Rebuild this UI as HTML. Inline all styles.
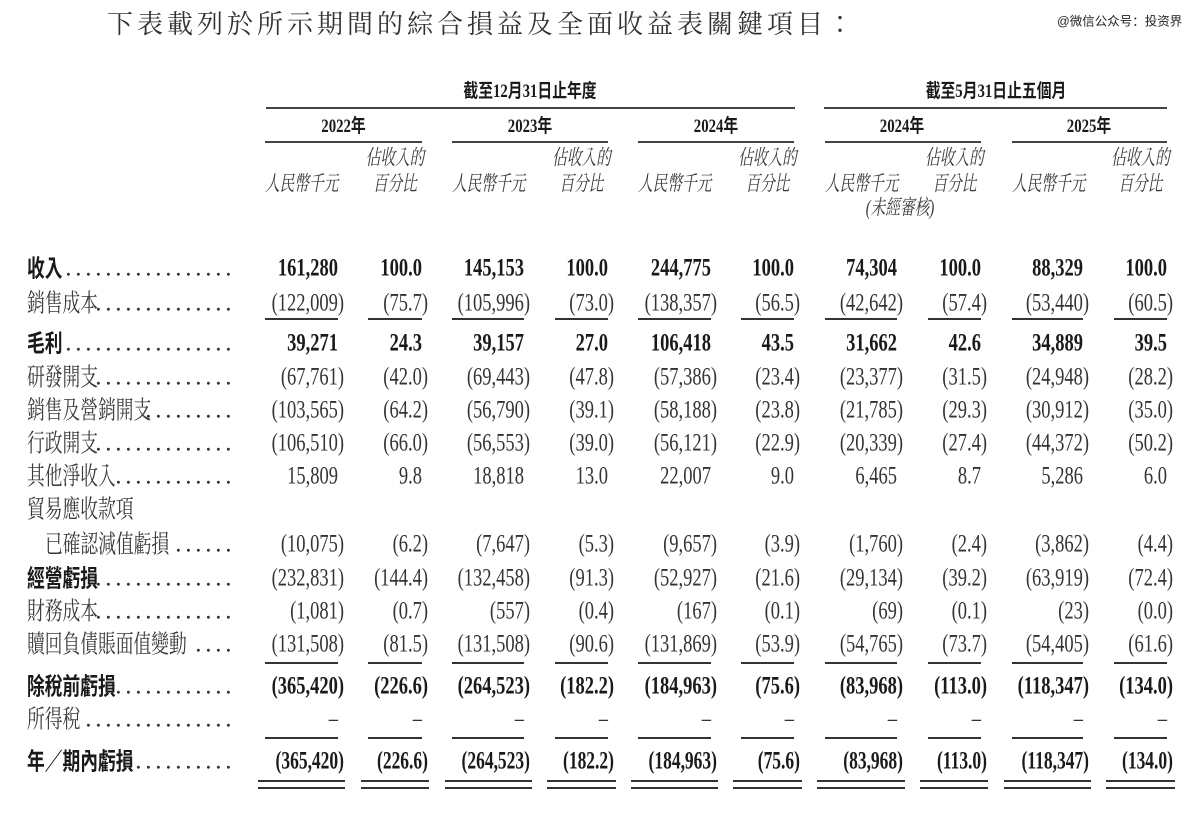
<!DOCTYPE html>
<html><head><meta charset="utf-8"><style>
html,body{margin:0;padding:0;background:#fff;}
svg{display:block}
.n{font-family:"Liberation Serif",serif;font-size:25px;fill:#333;text-anchor:end;}
.nb{font-family:"Liberation Serif",serif;font-size:25px;font-weight:bold;fill:#1a1a1a;text-anchor:end;}
.l{font-family:"Liberation Serif","Noto Serif CJK TC",serif;font-size:25px;fill:#3a3a3a;}
.lb{font-family:"Liberation Sans","Noto Sans CJK TC",sans-serif;font-size:24px;font-weight:bold;fill:#1a1a1a;}
.d{font-family:"Liberation Serif",serif;font-size:25px;fill:#333;letter-spacing:3.75px;}
.h{font-family:"Liberation Serif","Noto Serif CJK TC",serif;font-size:21px;font-style:italic;fill:#3a3a3a;}
.hb{font-family:"Liberation Serif","Noto Sans CJK TC",sans-serif;font-size:19px;font-weight:bold;fill:#1a1a1a;text-anchor:middle;}
.t{font-family:"Liberation Serif","Noto Serif CJK TC",serif;font-size:26px;letter-spacing:4px;fill:#333;}
.w{font-family:"Liberation Sans","Noto Sans CJK SC",sans-serif;font-size:12.5px;fill:#222;}
.m{text-anchor:middle}
</style></head><body>
<svg width="1200" height="819" viewBox="0 0 1200 819">
<rect width="1200" height="819" fill="#fff"/>
<text class="t" x="107" y="33">下表載列於所示期間的綜合損益及全面收益表關鍵項目：</text>
<text class="w" x="1057" y="25.5">@微信公众号：投资界</text>

<!-- header -->
<text class="hb" transform="translate(530,97) scale(.78 1)">截至12月31日止年度</text>
<text class="hb" transform="translate(996,97) scale(.78 1)">截至5月31日止五個月</text>
<g fill="#444">
<rect x="266" y="107" width="529" height="2"/>
<rect x="824" y="107" width="343" height="2"/>
<rect x="265" y="141" width="157" height="2"/>
<rect x="452" y="141" width="156" height="2"/>
<rect x="638" y="141" width="156" height="2"/>
<rect x="825" y="141" width="156" height="2"/>
<rect x="1012" y="141" width="155" height="2"/>
</g>
<text class="hb" transform="translate(343.5,132) scale(.78 1)">2022年</text>
<text class="hb" transform="translate(530,132) scale(.78 1)">2023年</text>
<text class="hb" transform="translate(716,132) scale(.78 1)">2024年</text>
<text class="hb" transform="translate(902,132) scale(.78 1)">2024年</text>
<text class="hb" transform="translate(1089,132) scale(.78 1)">2025年</text>

<text class="h" transform="translate(265,190.5) scale(.7 1)">人民幣千元</text>
<text class="h" transform="translate(452,190.5) scale(.7 1)">人民幣千元</text>
<text class="h" transform="translate(638,190.5) scale(.7 1)">人民幣千元</text>
<text class="h" transform="translate(825,190.5) scale(.7 1)">人民幣千元</text>
<text class="h" transform="translate(1012,190.5) scale(.7 1)">人民幣千元</text>
<g class="h m">
<text transform="translate(395,164.5) scale(.7 1)">佔收入的</text>
<text transform="translate(581.5,164.5) scale(.7 1)">佔收入的</text>
<text transform="translate(767.5,164.5) scale(.7 1)">佔收入的</text>
<text transform="translate(954.5,164.5) scale(.7 1)">佔收入的</text>
<text transform="translate(1140.5,164.5) scale(.7 1)">佔收入的</text>
<text transform="translate(395,190.5) scale(.7 1)">百分比</text>
<text transform="translate(581.5,190.5) scale(.7 1)">百分比</text>
<text transform="translate(767.5,190.5) scale(.7 1)">百分比</text>
<text transform="translate(954.5,190.5) scale(.7 1)">百分比</text>
<text transform="translate(1140.5,190.5) scale(.7 1)">百分比</text>
<text transform="translate(900,214.5) scale(.7 1)">(未經審核)</text>
</g>

<!-- labels -->
<text class="lb" transform="translate(27,276.4) scale(.74 1)">收入</text>
<text class="d" x="65.3" y="275.4">.................</text>
<text class="l" transform="translate(27,311.4) scale(.71 1)">銷售成本</text>
<text class="d" x="95.3" y="310.4">..............</text>
<text class="lb" transform="translate(27,351.4) scale(.74 1)">毛利</text>
<text class="d" x="65.3" y="350.4">.................</text>
<text class="l" transform="translate(27,385.4) scale(.71 1)">研發開支</text>
<text class="d" x="95.3" y="384.4">..............</text>
<text class="l" transform="translate(27,418.4) scale(.71 1)">銷售及營銷開支</text>
<text class="d" x="145.3" y="417.4">.........</text>
<text class="l" transform="translate(27,451.4) scale(.71 1)">行政開支</text>
<text class="d" x="95.3" y="450.4">..............</text>
<text class="l" transform="translate(27,484.4) scale(.71 1)">其他淨收入</text>
<text class="d" x="115.3" y="483.4">............</text>
<text class="l" transform="translate(27,517.4) scale(.71 1)">貿易應收款項</text>
<text class="l" transform="translate(45,552.4) scale(.71 1)">已確認減值虧損</text>
<text class="d" x="175.3" y="551.4">......</text>
<text class="lb" transform="translate(27,586.4) scale(.74 1)">經營虧損</text>
<text class="d" x="95.3" y="585.4">..............</text>
<text class="l" transform="translate(27,619.4) scale(.71 1)">財務成本</text>
<text class="d" x="95.3" y="618.4">..............</text>
<text class="l" transform="translate(27,652.4) scale(.71 1)">贖回負債賬面值變動</text>
<text class="d" x="195.3" y="651.4">....</text>
<text class="lb" transform="translate(27,694.4) scale(.74 1)">除稅前虧損</text>
<text class="d" x="115.3" y="693.4">............</text>
<text class="l" transform="translate(27,727.4) scale(.71 1)">所得稅</text>
<text class="d" x="85.3" y="726.4">...............</text>
<text class="lb" transform="translate(27,769.4) scale(.74 1)">年／期內虧損</text>
<text class="d" x="135.3" y="768.4">..........</text>

<!-- row 1 -->
<g class="nb" transform="translate(0,275.4)">
<text transform="translate(338) scale(.74 1)">161,280</text>
<text transform="translate(422) scale(.74 1)">100.0</text>
<text transform="translate(524) scale(.74 1)">145,153</text>
<text transform="translate(608) scale(.74 1)">100.0</text>
<text transform="translate(711) scale(.74 1)">244,775</text>
<text transform="translate(794) scale(.74 1)">100.0</text>
<text transform="translate(897) scale(.74 1)">74,304</text>
<text transform="translate(981) scale(.74 1)">100.0</text>
<text transform="translate(1083) scale(.74 1)">88,329</text>
<text transform="translate(1167) scale(.74 1)">100.0</text>
</g>
<!-- row 2 -->
<g class="n" transform="translate(0,310.4)">
<text transform="translate(344) scale(.74 1)">(122,009)</text>
<text transform="translate(428) scale(.74 1)">(75.7)</text>
<text transform="translate(530) scale(.74 1)">(105,996)</text>
<text transform="translate(614) scale(.74 1)">(73.0)</text>
<text transform="translate(717) scale(.74 1)">(138,357)</text>
<text transform="translate(800) scale(.74 1)">(56.5)</text>
<text transform="translate(903) scale(.74 1)">(42,642)</text>
<text transform="translate(987) scale(.74 1)">(57.4)</text>
<text transform="translate(1089) scale(.74 1)">(53,440)</text>
<text transform="translate(1173) scale(.74 1)">(60.5)</text>
</g>
<!-- row 3 -->
<g class="nb" transform="translate(0,350.4)">
<text transform="translate(338) scale(.74 1)">39,271</text>
<text transform="translate(422) scale(.74 1)">24.3</text>
<text transform="translate(524) scale(.74 1)">39,157</text>
<text transform="translate(608) scale(.74 1)">27.0</text>
<text transform="translate(711) scale(.74 1)">106,418</text>
<text transform="translate(794) scale(.74 1)">43.5</text>
<text transform="translate(897) scale(.74 1)">31,662</text>
<text transform="translate(981) scale(.74 1)">42.6</text>
<text transform="translate(1083) scale(.74 1)">34,889</text>
<text transform="translate(1167) scale(.74 1)">39.5</text>
</g>
<!-- row 4 -->
<g class="n" transform="translate(0,384.4)">
<text transform="translate(344) scale(.74 1)">(67,761)</text>
<text transform="translate(428) scale(.74 1)">(42.0)</text>
<text transform="translate(530) scale(.74 1)">(69,443)</text>
<text transform="translate(614) scale(.74 1)">(47.8)</text>
<text transform="translate(717) scale(.74 1)">(57,386)</text>
<text transform="translate(800) scale(.74 1)">(23.4)</text>
<text transform="translate(903) scale(.74 1)">(23,377)</text>
<text transform="translate(987) scale(.74 1)">(31.5)</text>
<text transform="translate(1089) scale(.74 1)">(24,948)</text>
<text transform="translate(1173) scale(.74 1)">(28.2)</text>
</g>
<!-- row 5 -->
<g class="n" transform="translate(0,417.4)">
<text transform="translate(344) scale(.74 1)">(103,565)</text>
<text transform="translate(428) scale(.74 1)">(64.2)</text>
<text transform="translate(530) scale(.74 1)">(56,790)</text>
<text transform="translate(614) scale(.74 1)">(39.1)</text>
<text transform="translate(717) scale(.74 1)">(58,188)</text>
<text transform="translate(800) scale(.74 1)">(23.8)</text>
<text transform="translate(903) scale(.74 1)">(21,785)</text>
<text transform="translate(987) scale(.74 1)">(29.3)</text>
<text transform="translate(1089) scale(.74 1)">(30,912)</text>
<text transform="translate(1173) scale(.74 1)">(35.0)</text>
</g>
<!-- row 6 -->
<g class="n" transform="translate(0,450.4)">
<text transform="translate(344) scale(.74 1)">(106,510)</text>
<text transform="translate(428) scale(.74 1)">(66.0)</text>
<text transform="translate(530) scale(.74 1)">(56,553)</text>
<text transform="translate(614) scale(.74 1)">(39.0)</text>
<text transform="translate(717) scale(.74 1)">(56,121)</text>
<text transform="translate(800) scale(.74 1)">(22.9)</text>
<text transform="translate(903) scale(.74 1)">(20,339)</text>
<text transform="translate(987) scale(.74 1)">(27.4)</text>
<text transform="translate(1089) scale(.74 1)">(44,372)</text>
<text transform="translate(1173) scale(.74 1)">(50.2)</text>
</g>
<!-- row 7 -->
<g class="n" transform="translate(0,483.4)">
<text transform="translate(338) scale(.74 1)">15,809</text>
<text transform="translate(422) scale(.74 1)">9.8</text>
<text transform="translate(524) scale(.74 1)">18,818</text>
<text transform="translate(608) scale(.74 1)">13.0</text>
<text transform="translate(711) scale(.74 1)">22,007</text>
<text transform="translate(794) scale(.74 1)">9.0</text>
<text transform="translate(897) scale(.74 1)">6,465</text>
<text transform="translate(981) scale(.74 1)">8.7</text>
<text transform="translate(1083) scale(.74 1)">5,286</text>
<text transform="translate(1167) scale(.74 1)">6.0</text>
</g>
<!-- row 9 -->
<g class="n" transform="translate(0,551.4)">
<text transform="translate(344) scale(.74 1)">(10,075)</text>
<text transform="translate(428) scale(.74 1)">(6.2)</text>
<text transform="translate(530) scale(.74 1)">(7,647)</text>
<text transform="translate(614) scale(.74 1)">(5.3)</text>
<text transform="translate(717) scale(.74 1)">(9,657)</text>
<text transform="translate(800) scale(.74 1)">(3.9)</text>
<text transform="translate(903) scale(.74 1)">(1,760)</text>
<text transform="translate(987) scale(.74 1)">(2.4)</text>
<text transform="translate(1089) scale(.74 1)">(3,862)</text>
<text transform="translate(1173) scale(.74 1)">(4.4)</text>
</g>
<!-- row 10 -->
<g class="n" transform="translate(0,585.4)">
<text transform="translate(344) scale(.74 1)">(232,831)</text>
<text transform="translate(428) scale(.74 1)">(144.4)</text>
<text transform="translate(530) scale(.74 1)">(132,458)</text>
<text transform="translate(614) scale(.74 1)">(91.3)</text>
<text transform="translate(717) scale(.74 1)">(52,927)</text>
<text transform="translate(800) scale(.74 1)">(21.6)</text>
<text transform="translate(903) scale(.74 1)">(29,134)</text>
<text transform="translate(987) scale(.74 1)">(39.2)</text>
<text transform="translate(1089) scale(.74 1)">(63,919)</text>
<text transform="translate(1173) scale(.74 1)">(72.4)</text>
</g>
<!-- row 11 -->
<g class="n" transform="translate(0,618.4)">
<text transform="translate(344) scale(.74 1)">(1,081)</text>
<text transform="translate(428) scale(.74 1)">(0.7)</text>
<text transform="translate(530) scale(.74 1)">(557)</text>
<text transform="translate(614) scale(.74 1)">(0.4)</text>
<text transform="translate(717) scale(.74 1)">(167)</text>
<text transform="translate(800) scale(.74 1)">(0.1)</text>
<text transform="translate(903) scale(.74 1)">(69)</text>
<text transform="translate(987) scale(.74 1)">(0.1)</text>
<text transform="translate(1089) scale(.74 1)">(23)</text>
<text transform="translate(1173) scale(.74 1)">(0.0)</text>
</g>
<!-- row 12 -->
<g class="n" transform="translate(0,651.4)">
<text transform="translate(344) scale(.74 1)">(131,508)</text>
<text transform="translate(428) scale(.74 1)">(81.5)</text>
<text transform="translate(530) scale(.74 1)">(131,508)</text>
<text transform="translate(614) scale(.74 1)">(90.6)</text>
<text transform="translate(717) scale(.74 1)">(131,869)</text>
<text transform="translate(800) scale(.74 1)">(53.9)</text>
<text transform="translate(903) scale(.74 1)">(54,765)</text>
<text transform="translate(987) scale(.74 1)">(73.7)</text>
<text transform="translate(1089) scale(.74 1)">(54,405)</text>
<text transform="translate(1173) scale(.74 1)">(61.6)</text>
</g>
<!-- row 13 -->
<g class="nb" transform="translate(0,693.4)">
<text transform="translate(344) scale(.74 1)">(365,420)</text>
<text transform="translate(428) scale(.74 1)">(226.6)</text>
<text transform="translate(530) scale(.74 1)">(264,523)</text>
<text transform="translate(614) scale(.74 1)">(182.2)</text>
<text transform="translate(717) scale(.74 1)">(184,963)</text>
<text transform="translate(800) scale(.74 1)">(75.6)</text>
<text transform="translate(903) scale(.74 1)">(83,968)</text>
<text transform="translate(987) scale(.74 1)">(113.0)</text>
<text transform="translate(1089) scale(.74 1)">(118,347)</text>
<text transform="translate(1173) scale(.74 1)">(134.0)</text>
</g>
<!-- row 14 -->
<g class="n" transform="translate(0,726.4)">
<text transform="translate(338) scale(.74 1)">–</text>
<text transform="translate(422) scale(.74 1)">–</text>
<text transform="translate(524) scale(.74 1)">–</text>
<text transform="translate(608) scale(.74 1)">–</text>
<text transform="translate(711) scale(.74 1)">–</text>
<text transform="translate(794) scale(.74 1)">–</text>
<text transform="translate(897) scale(.74 1)">–</text>
<text transform="translate(981) scale(.74 1)">–</text>
<text transform="translate(1083) scale(.74 1)">–</text>
<text transform="translate(1167) scale(.74 1)">–</text>
</g>
<!-- row 15 -->
<g class="nb" transform="translate(0,768.4)">
<text transform="translate(344) scale(.7 1)">(365,420)</text>
<text transform="translate(428) scale(.7 1)">(226.6)</text>
<text transform="translate(530) scale(.7 1)">(264,523)</text>
<text transform="translate(614) scale(.7 1)">(182.2)</text>
<text transform="translate(717) scale(.7 1)">(184,963)</text>
<text transform="translate(800) scale(.7 1)">(75.6)</text>
<text transform="translate(903) scale(.7 1)">(83,968)</text>
<text transform="translate(987) scale(.7 1)">(113.0)</text>
<text transform="translate(1089) scale(.7 1)">(118,347)</text>
<text transform="translate(1173) scale(.7 1)">(134.0)</text>
</g>

<!-- underlines -->
<g fill="#333">
<rect x="265" y="318" width="73" height="2"/><rect x="368" y="318" width="54" height="2"/>
<rect x="452" y="318" width="72" height="2"/><rect x="555" y="318" width="53" height="2"/>
<rect x="638" y="318" width="73" height="2"/><rect x="741" y="318" width="53" height="2"/>
<rect x="825" y="318" width="72" height="2"/><rect x="928" y="318" width="53" height="2"/>
<rect x="1012" y="318" width="71" height="2"/><rect x="1114" y="318" width="53" height="2"/>

<rect x="265" y="662" width="73" height="2"/><rect x="368" y="662" width="54" height="2"/>
<rect x="452" y="662" width="72" height="2"/><rect x="555" y="662" width="53" height="2"/>
<rect x="638" y="662" width="73" height="2"/><rect x="741" y="662" width="53" height="2"/>
<rect x="825" y="662" width="72" height="2"/><rect x="928" y="662" width="53" height="2"/>
<rect x="1012" y="662" width="71" height="2"/><rect x="1114" y="662" width="53" height="2"/>

<rect x="265" y="737" width="73" height="2"/><rect x="368" y="737" width="54" height="2"/>
<rect x="452" y="737" width="72" height="2"/><rect x="555" y="737" width="53" height="2"/>
<rect x="638" y="737" width="73" height="2"/><rect x="741" y="737" width="53" height="2"/>
<rect x="825" y="737" width="72" height="2"/><rect x="928" y="737" width="53" height="2"/>
<rect x="1012" y="737" width="71" height="2"/><rect x="1114" y="737" width="53" height="2"/>

<rect x="258" y="780" width="87" height="2"/><rect x="361" y="780" width="68" height="2"/>
<rect x="445" y="780" width="87" height="2"/><rect x="547" y="780" width="69" height="2"/>
<rect x="631" y="780" width="87" height="2"/><rect x="733" y="780" width="69" height="2"/>
<rect x="817" y="780" width="88" height="2"/><rect x="920" y="780" width="68" height="2"/>
<rect x="1004" y="780" width="87" height="2"/><rect x="1106" y="780" width="69" height="2"/>

<rect x="258" y="787" width="87" height="2"/><rect x="361" y="787" width="68" height="2"/>
<rect x="445" y="787" width="87" height="2"/><rect x="547" y="787" width="69" height="2"/>
<rect x="631" y="787" width="87" height="2"/><rect x="733" y="787" width="69" height="2"/>
<rect x="817" y="787" width="88" height="2"/><rect x="920" y="787" width="68" height="2"/>
<rect x="1004" y="787" width="87" height="2"/><rect x="1106" y="787" width="69" height="2"/>
</g>
</svg>
</body></html>
